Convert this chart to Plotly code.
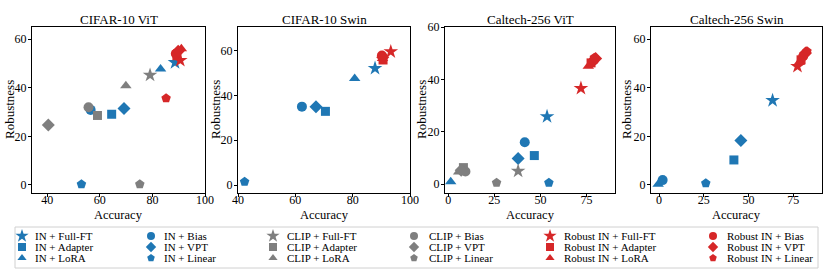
import plotly.graph_objects as go

W, H = 830, 277
FONT = "Liberation Serif, Times New Roman, serif"

methods = ["Full-FT", "Adapter", "LoRA", "Bias", "VPT", "Linear"]
symbols = ["star", "square", "triangle-up", "circle", "diamond", "pentagon"]
backbones = ["IN", "CLIP", "Robust IN"]
colors = {"IN": "#1f77b4", "CLIP": "#7f7f7f", "Robust IN": "#d62728"}

panel_titles = ["CIFAR-10 ViT", "CIFAR-10 Swin", "Caltech-256 ViT", "Caltech-256 Swin"]

# values per method, order: Full-FT, Adapter, LoRA, Bias, VPT, Linear
c10_vit_in_acc = [88.6, 64.5, 83.1, 56.5, 69.2, 53.0]
c10_vit_in_rob = [50.4, 29.1, 47.7, 30.9, 31.5, 0.3]
c10_vit_clip_acc = [79.1, 59.1, 69.9, 55.7, 40.4, 75.2]
c10_vit_clip_rob = [45.2, 28.6, 40.8, 32.0, 24.7, 0.3]
c10_vit_rob_acc = [90.6, 89.3, 91.0, 88.9, 89.8, 85.2]
c10_vit_rob_rob = [51.3, 53.2, 56.0, 54.0, 55.0, 35.7]

c10_swin_in_acc = [87.8, 70.5, 80.7, 62.3, 67.2, 42.3]
c10_swin_in_rob = [52.1, 32.9, 47.5, 35.0, 35.0, 1.5]
c10_swin_rob_acc = [93.3, 90.6, 90.4, 90.2, 90.5, 90.4]
c10_swin_rob_rob = [59.5, 55.8, 56.5, 57.8, 57.0, 57.5]

cal_vit_in_acc = [53.6, 46.7, 1.3, 41.5, 37.9, 54.6]
cal_vit_in_rob = [25.8, 10.9, 0.9, 16.0, 9.8, 0.5]
cal_vit_clip_acc = [37.9, 8.2, 5.6, 9.3, 7.0, 26.2]
cal_vit_clip_rob = [5.0, 6.3, 4.6, 4.8, 5.3, 0.5]
cal_vit_rob_acc = [72.0, 77.5, 76.0, 79.0, 80.0, 79.3]
cal_vit_rob_rob = [36.6, 46.3, 45.0, 47.3, 48.0, 48.3]

cal_swin_in_acc = [63.4, 41.8, -0.5, 2.0, 45.7, 26.1]
cal_swin_in_rob = [34.8, 10.3, 0.3, 2.0, 18.3, 0.7]
cal_swin_rob_acc = [77.3, 79.3, 78.3, 80.5, 81.8, 82.6]
cal_swin_rob_rob = [48.8, 51.5, 50.5, 53.0, 54.3, 55.0]

panel_data = [
    {"IN": (c10_vit_in_acc, c10_vit_in_rob), "CLIP": (c10_vit_clip_acc, c10_vit_clip_rob),
     "Robust IN": (c10_vit_rob_acc, c10_vit_rob_rob)},
    {"IN": (c10_swin_in_acc, c10_swin_in_rob), "Robust IN": (c10_swin_rob_acc, c10_swin_rob_rob)},
    {"IN": (cal_vit_in_acc, cal_vit_in_rob), "CLIP": (cal_vit_clip_acc, cal_vit_clip_rob),
     "Robust IN": (cal_vit_rob_acc, cal_vit_rob_rob)},
    {"IN": (cal_swin_in_acc, cal_swin_in_rob), "Robust IN": (cal_swin_rob_acc, cal_swin_rob_rob)},
]

x_ranges = [[34.2, 100], [40, 100], [-1.8, 90.5], [-4.5, 91]]
y_ranges = [[-3.3, 65], [-3.5, 70.5], [-3.4, 60], [-3.3, 65]]
x_ticks = [[40, 60, 80, 100], [40, 60, 80, 100], [0, 25, 50, 75], [0, 25, 50, 75]]
y_ticks = [0, 20, 40, 60]

# pixel layout
x_boxes = [(32, 205), (238, 410), (445, 615), (651, 822)]
y_box = (27, 193)
ylabel_x = [9, 215, 421, 626]
LEG_TOP = 222


def px(xp):
    return xp / W


def py(yp):
    return 1 - yp / H


marker_size = {"star": 11, "square": 9, "triangle-up": 10, "circle": 10, "diamond": 10, "pentagon": 10}

fig = go.Figure()
layout = {}
annotations = []

for i in range(4):
    ax = "" if i == 0 else str(i + 1)
    for bb in backbones:
        if bb not in panel_data[i]:
            continue
        accs, robs = panel_data[i][bb]
        for m, sym, a, r in zip(methods, symbols, accs, robs):
            fig.add_trace(go.Scatter(
                x=[a], y=[r], mode="markers", showlegend=False,
                name=f"{bb} + {m}", xaxis="x" + ax, yaxis="y" + ax,
                marker=dict(symbol=sym, size=marker_size[sym], color=colors[bb], line=dict(width=0)),
                hoverinfo="x+y+name"))
    axis_common = dict(showline=True, mirror=True, linecolor="black", linewidth=1,
                       ticks="outside", ticklen=3, tickwidth=1, tickcolor="black",
                       showgrid=False, zeroline=False, automargin=False,
                       tickfont=dict(family=FONT, size=12, color="black"))
    layout["xaxis" + ax] = dict(axis_common, domain=[px(x_boxes[i][0]), px(x_boxes[i][1])],
                                range=x_ranges[i], tickvals=x_ticks[i], anchor="y" + ax,
                                ticklabelstandoff=-7)
    layout["yaxis" + ax] = dict(axis_common, domain=[py(y_box[1]), py(y_box[0])],
                                range=y_ranges[i], tickvals=y_ticks, anchor="x" + ax,
                                ticklabelstandoff=-1)
    cx = (x_boxes[i][0] + x_boxes[i][1]) / 2
    annotations.append(dict(text=panel_titles[i], x=px(cx), y=py(19.5), xref="paper", yref="paper",
                            showarrow=False, xanchor="center", yanchor="middle",
                            font=dict(family=FONT, size=13, color="black")))
    annotations.append(dict(text="Accuracy", x=px(cx), y=py(214.5), xref="paper", yref="paper",
                            showarrow=False, xanchor="center", yanchor="middle",
                            font=dict(family=FONT, size=12.5, color="black")))
    annotations.append(dict(text="Robustness", x=px(ylabel_x[i]), y=py((y_box[0] + y_box[1]) / 2),
                            xref="paper", yref="paper", textangle=-90,
                            showarrow=False, xanchor="center", yanchor="middle",
                            font=dict(family=FONT, size=13, color="black")))

# manual legend (6 columns x 3 rows)
leg_marker_x = [22, 151, 273, 414, 550, 713]
leg_text_x = [33, 162, 285, 427, 562, 725]
leg_row_y = [236, 247, 258]
leg_groups = [("IN", [0, 1, 2]), ("IN", [3, 4, 5]), ("CLIP", [0, 1, 2]), ("CLIP", [3, 4, 5]),
              ("Robust IN", [0, 1, 2]), ("Robust IN", [3, 4, 5])]
for c, (bb, mids) in enumerate(leg_groups):
    for r, mi in enumerate(mids):
        fig.add_trace(go.Scatter(
            x=[leg_marker_x[c]], y=[leg_row_y[r]], mode="markers", showlegend=False,
            xaxis="x5", yaxis="y5", hoverinfo="skip",
            marker=dict(symbol=symbols[mi], size=8 if symbols[mi] != "star" else 10,
                        color=colors[bb], line=dict(width=0))))
        annotations.append(dict(text=f"{bb} + {methods[mi]}", x=px(leg_text_x[c]), y=py(leg_row_y[r]),
                                xref="paper", yref="paper", showarrow=False,
                                xanchor="left", yanchor="middle",
                                font=dict(family=FONT, size=11, color="black")))

layout["xaxis5"] = dict(domain=[0, 1], range=[0, W], visible=False, fixedrange=True,
                        anchor="y5", automargin=False)
layout["yaxis5"] = dict(domain=[0, py(LEG_TOP)], range=[H, LEG_TOP], visible=False,
                        fixedrange=True, anchor="x5", automargin=False)

# legend frame
fig.add_shape(type="rect", xref="paper", yref="paper", x0=px(15), x1=px(818), y0=py(268), y1=py(227),
              line=dict(color="#d0d0d0", width=1), fillcolor="rgba(0,0,0,0)", layer="below")

fig.update_layout(
    template="none",
    width=W, height=H, margin=dict(l=0, r=0, t=0, b=0, pad=0, autoexpand=False),
    paper_bgcolor="white", plot_bgcolor="rgba(0,0,0,0)",
    annotations=annotations, showlegend=False,
    font=dict(family=FONT, color="black"),
    **layout)

fig.write_html("out.html", config={"displayModeBar": False},
               post_script="document.body.style.margin='0px';document.body.style.overflow='hidden';")
